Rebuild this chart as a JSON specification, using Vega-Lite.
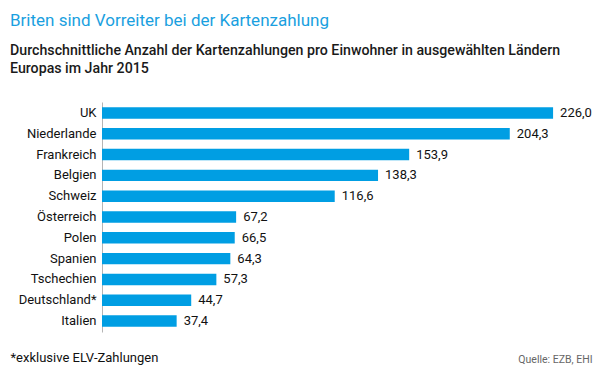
{
  "$schema": "https://vega.github.io/schema/vega-lite/v6.json",
  "autosize": {"type": "none"},
  "padding": {"left": 102, "top": 102, "right": 8, "bottom": 44},
  "width": 490,
  "height": 230,
  "background": "white",
  "config": {
    "view": {"stroke": null},
    "font": "Roboto",
    "locale": {"number": {"decimal": ",", "thousands": ".", "grouping": [3], "currency": ["", " €"]}}
  },
  "title": {
    "text": "Briten sind Vorreiter bei der Kartenzahlung",
    "subtitle": ["Durchschnittliche Anzahl der Kartenzahlungen pro Einwohner in ausgewählten Ländern", "Europas im Jahr 2015"],
    "anchor": "start",
    "frame": "group",
    "dx": -92,
    "offset": 25,
    "font": "Roboto",
    "fontSize": 17,
    "fontWeight": "normal",
    "color": "#1a9fe0",
    "subtitleFont": "Roboto",
    "subtitleFontSize": 14.2,
    "subtitleFontWeight": 500,
    "subtitleColor": "#1a1a1a",
    "subtitleLineHeight": 18,
    "subtitlePadding": 14
  },
  "data": {
    "values": [
      {"land": "UK", "wert": 226.0},
      {"land": "Niederlande", "wert": 204.3},
      {"land": "Frankreich", "wert": 153.9},
      {"land": "Belgien", "wert": 138.3},
      {"land": "Schweiz", "wert": 116.6},
      {"land": "Österreich", "wert": 67.2},
      {"land": "Polen", "wert": 66.5},
      {"land": "Spanien", "wert": 64.3},
      {"land": "Tschechien", "wert": 57.3},
      {"land": "Deutschland*", "wert": 44.7},
      {"land": "Italien", "wert": 37.4}
    ]
  },
  "encoding": {
    "y": {
      "field": "land",
      "type": "nominal",
      "sort": null,
      "scale": {"paddingInner": 0.45, "paddingOuter": 0.25},
      "axis": {
        "title": "Quelle: EZB, EHI",
        "titleAngle": 0,
        "titleAlign": "right",
        "titleBaseline": "alphabetic",
        "titleX": 490,
        "titleY": 260,
        "titleFontSize": 10.5,
        "titleFontWeight": "normal",
        "titleColor": "#666666",
        "domain": true,
        "domainColor": "#b5b5b5",
        "domainWidth": 1,
        "ticks": false,
        "labelPadding": 6,
        "labelFontSize": 13,
        "labelColor": "#111111"
      }
    },
    "x": {
      "field": "wert",
      "type": "quantitative",
      "scale": {"domain": [0, 245.5], "nice": false},
      "axis": {
        "title": "*exklusive ELV-Zahlungen",
        "titleAnchor": "start",
        "titleAlign": "left",
        "titleBaseline": "alphabetic",
        "titleX": -92,
        "titleY": 29,
        "titleFontSize": 13,
        "titleFontWeight": "normal",
        "titleColor": "#111111",
        "domain": false,
        "ticks": false,
        "labels": false,
        "grid": false
      }
    }
  },
  "layer": [
    {"mark": {"type": "bar", "color": "#009ee3"}},
    {
      "mark": {"type": "text", "align": "left", "baseline": "middle", "dx": 7, "fontSize": 13, "color": "#111111"},
      "encoding": {"text": {"field": "wert", "type": "quantitative", "format": ".1f"}}
    }
  ]
}
